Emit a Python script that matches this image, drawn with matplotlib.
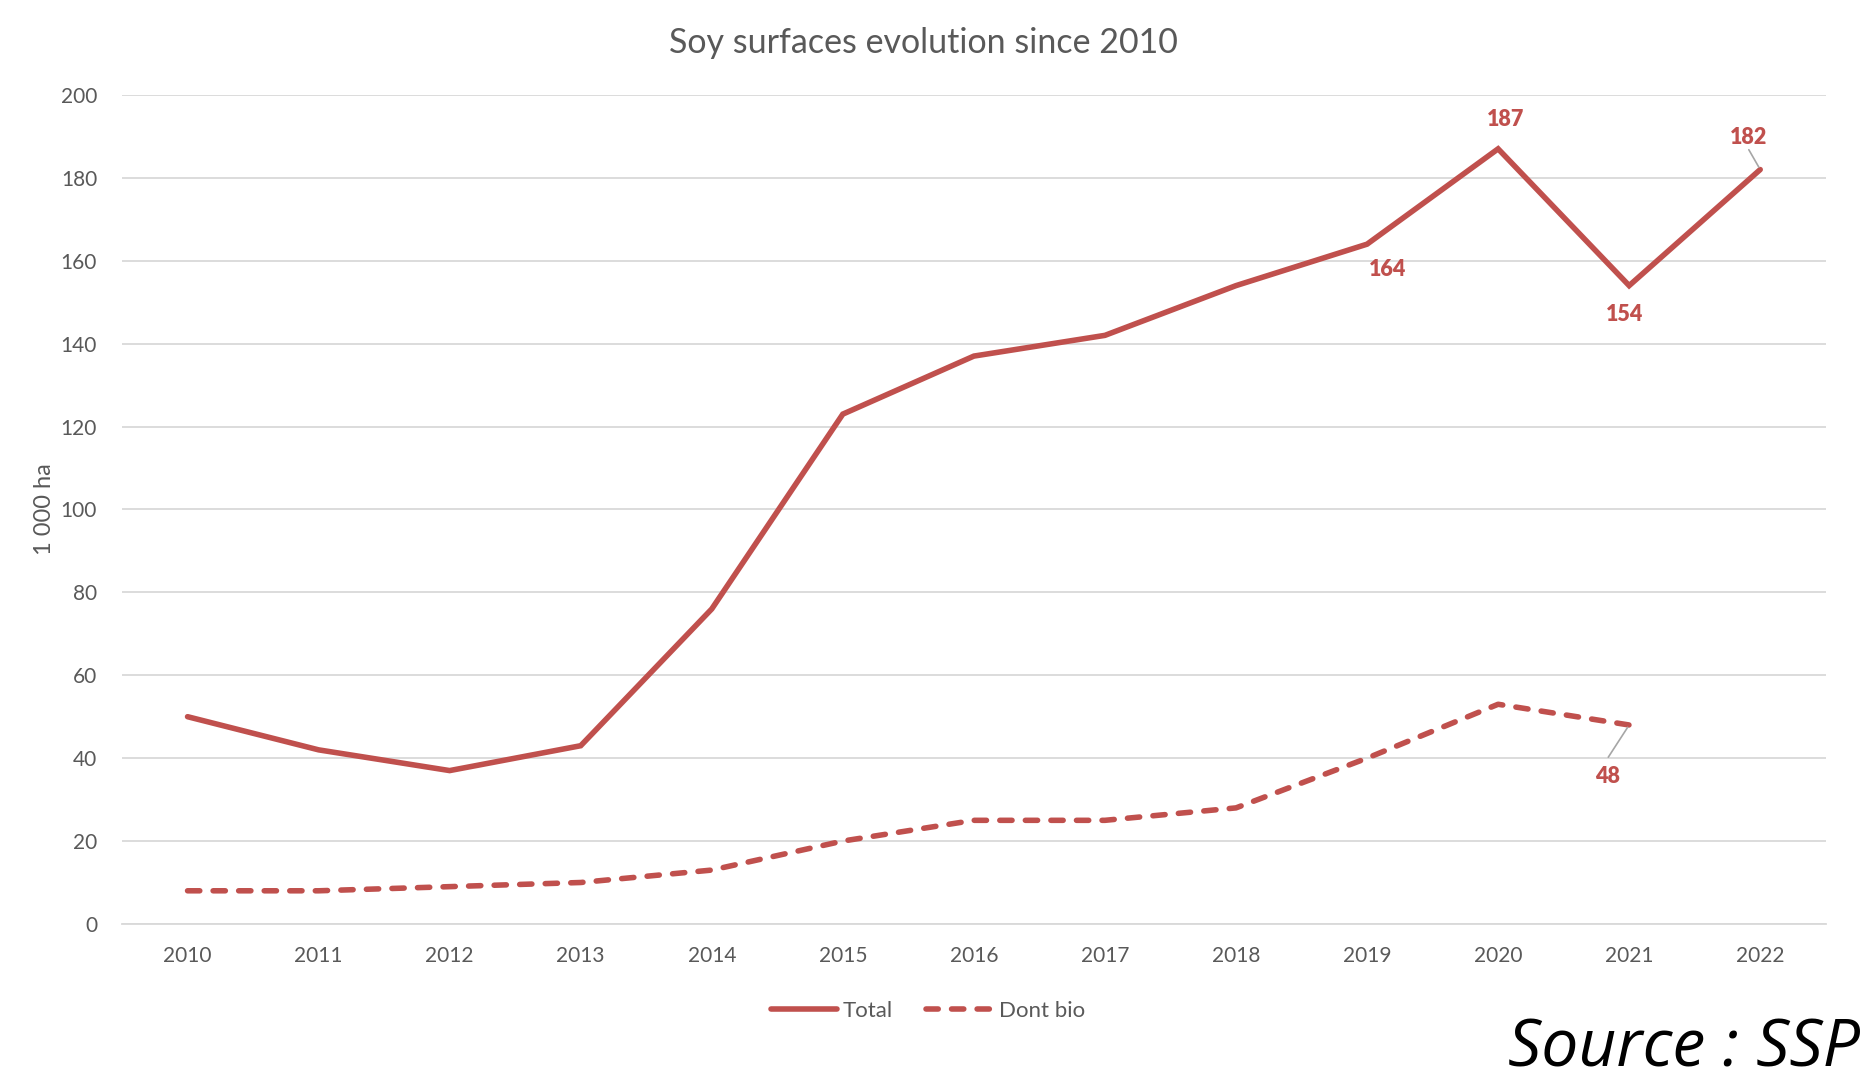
import matplotlib
matplotlib.use("Agg")
import matplotlib.pyplot as plt
import numpy as np

years = ["2010", "2011", "2012", "2013", "2014", "2015", "2016", "2017",
         "2018", "2019", "2020", "2021", "2022"]
total = [50, 42, 37, 43, 76, 123, 137, 142, 154, 164, 187, 154, 182]
bio = [8, 8, 9, 10, 13, 20, 25, 25, 28, 40, 53, 48, np.nan]
y_ticks = [0, 20, 40, 60, 80, 100, 120, 140, 160, 180, 200]

RED = "#C0504D"
GREY = "#595959"
FONT = "Lato"

plt.rcParams['font.family'] = [FONT, 'DejaVu Sans']

fig = plt.figure(figsize=(18.63, 10.79), dpi=100)
ax = fig.add_axes([0.0655, 0.1437, 0.9145, 0.7683])

x = np.arange(len(years))
ax.plot(x, total, color=RED, lw=4.0, solid_joinstyle='miter', solid_capstyle='round', label="Total", zorder=3)
ax.plot(x, bio, color=RED, lw=4.0, dashes=(2.2, 2.4), dash_capstyle='round', label="Dont bio", zorder=3)

ax.set_xlim(-0.5, len(years) - 0.5)
ax.set_ylim(0, 200)
ax.set_yticks(y_ticks)
ax.set_xticks(x)
ax.set_xticklabels(years)
ax.tick_params(axis='both', length=0, labelsize=15, labelcolor=GREY)
ax.tick_params(axis='x', pad=16)
ax.tick_params(axis='y', pad=18)
ax.grid(axis='y', color="#D9D9D9", lw=1.3)
ax.set_axisbelow(True)
for s in ["top", "right", "left"]:
    ax.spines[s].set_visible(False)
ax.spines["bottom"].set_color("#D9D9D9")
ax.spines["bottom"].set_linewidth(1.3)

ax.set_ylabel("1 000 ha", fontsize=17, color=GREY, labelpad=4)
fig.text(0.4955, 0.9605, "Soy surfaces evolution since 2010", ha='center', va='center',
         fontsize=24.5, color=GREY)

# data labels (index into years, value, offset in pixels, leader line)
labels = [
    (10, total[10], (7, 29), False),
    (9, total[9], (21, -25), False),
    (11, total[11], (-5, -29), False),
    (12, total[12], (-12, 32), True),
    (11, bio[11], (-22, -52), True),
]
for i, v, off, leader in labels:
    ax.annotate(f"{v:.0f}", xy=(i, v), xytext=off, textcoords='offset pixels',
                ha='center', va='center', fontsize=15.5, fontweight='heavy', color=RED,
                zorder=4)
    if leader:
        ax.annotate("", xy=(i, v), xytext=(off[0] * 0.95, off[1] * 0.62),
                    textcoords='offset pixels',
                    arrowprops=dict(arrowstyle='-', color="#A6A6A6", lw=1.2,
                                    shrinkA=0, shrinkB=2))

leg = fig.legend(loc='center', bbox_to_anchor=(0.498, 0.063), ncol=2, frameon=False,
                 fontsize=16, handlelength=3.0, columnspacing=1.5, handletextpad=0.25)
for t in leg.get_texts():
    t.set_color(GREY)

fig.text(0.9985, 0.012, "Source : SSP", fontsize=47.5, style='italic', color='black',
         ha='right', va='baseline', family=['Open Sans', 'DejaVu Sans'])

fig.savefig("out.png", dpi=100)
